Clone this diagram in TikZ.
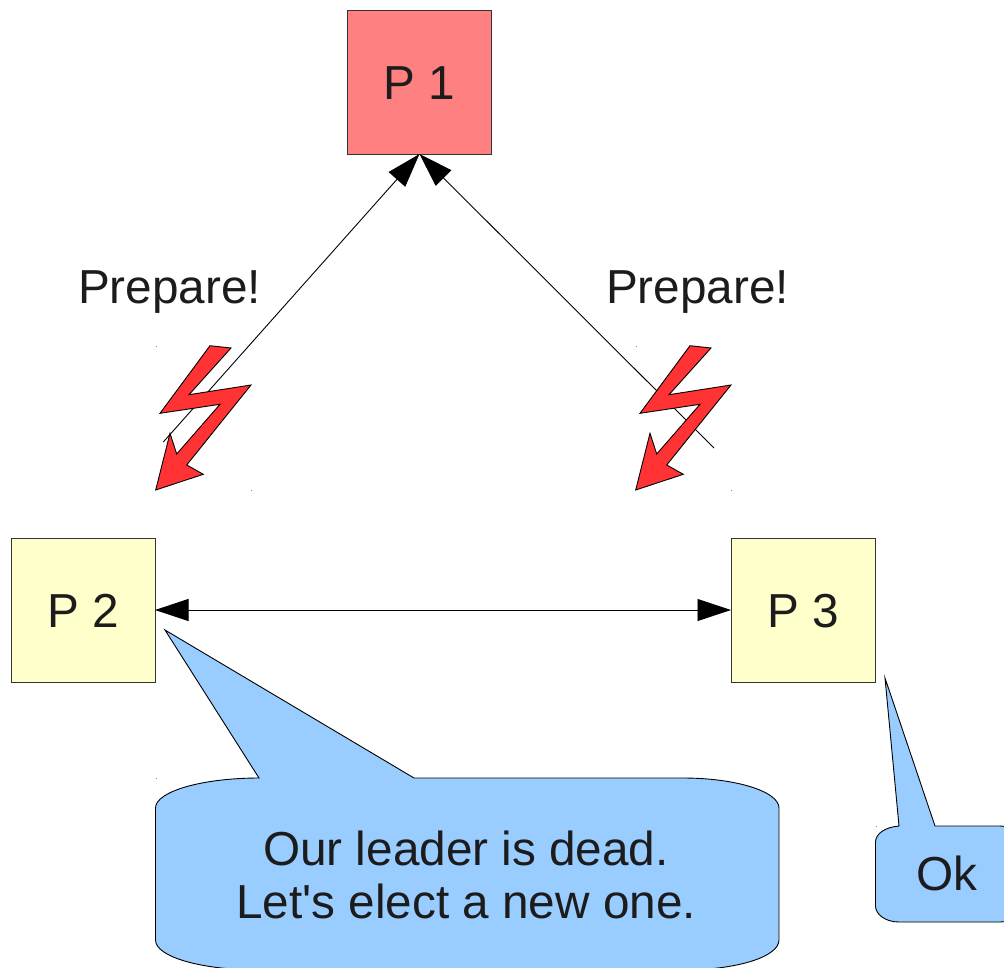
\documentclass[tikz,border=0pt]{standalone}
\usepackage{fontspec}
\newfontfamily\labelfont{Liberation Sans}
\usetikzlibrary{arrows.meta}
\definecolor{leaderred}{HTML}{FF8080}
\definecolor{procyellow}{HTML}{FFFFCC}
\definecolor{callblue}{HTML}{99CCFF}
\definecolor{boltred}{HTML}{FF3333}
\definecolor{inktext}{HTML}{1C1C1C}
\definecolor{edgegray}{HTML}{333333}
\tikzset{
  x=1pt,y=-1pt,
  procbox/.style={draw=edgegray,line width=1pt,minimum size=144pt,inner sep=0pt,outer sep=0pt},
  label/.style={text=inktext,font=\labelfont\fontsize{47.7}{54}\selectfont,inner sep=0pt,anchor=base,align=center},
  conn/.style={draw=black,line width=0.9pt},
  tipone/.style={-{Triangle[length=34pt,width=22pt]}},
  tipboth/.style={{Triangle[length=33.5pt,width=22pt]}-{Triangle[length=33.5pt,width=22pt]}},
  callout/.style={fill=callblue,draw=black,line width=0.9pt,line join=miter},
  bolt/.style={fill=boltred,draw=black,line width=0.9pt,line join=miter},
  speck/.style={fill=gray,draw=none},
}
\newcommand{\boltshape}[2]{%
  \draw[bolt,shift={(#1,#2)}]
    (70,15.7) -- (91,18) -- (49,64.7) -- (111,55) -- (46.7,135) -- (63.3,144.3)
    -- (15.7,160) -- (30,103.3) -- (36.7,124) -- (80,74.3) -- (20,83.3) -- cycle;}
\begin{document}
\begin{tikzpicture}
\useasboundingbox (0,0) rectangle (1004,967);
\clip (0,0) rectangle (1004,967);

% processes
\node[procbox,fill=leaderred]  (p1) at (419.5,82)  {};
\node[procbox,fill=procyellow] (p2) at (83,610)    {};
\node[procbox,fill=procyellow] (p3) at (803,610)   {};
\node[label] (p1t) at (419,99) {P 1};
\node[label] (p2t) at (83,627)   {P 2};
\node[label] (p3t) at (803,627)  {P 3};

% connectors
\coordinate (lfree) at (163.3,442);
\coordinate (rfree) at (714,448);
\draw[conn,tipone] (lfree) -- (p1.south);
\draw[conn,tipone] (rfree) -- (p1.south);
\draw[conn,tipboth] (p2.east) -- (p3.west);

% labels
\node[label] (prepl) at (169.5,303) {Prepare!};
\node[label] (prepr) at (697.5,303) {Prepare!};

% lightning bolts
\boltshape{140}{330}
\boltshape{620}{330}

% speech bubbles
\draw[callout] (165,630) -- (259,778) .. controls (202,778) and (155.5,791.5) .. (155.5,808)
  -- (155.5,940) .. controls (155.5,957) and (202,970) .. (259,970)
  -- (683,970) .. controls (736,970) and (779,957) .. (779,940)
  -- (779,808) .. controls (779,791.5) and (736,778) .. (683,778)
  -- (414,778) -- cycle;
\node[label] (bigone) at (466,865) {Our leader is dead.};
\node[label] (bigtwo) at (466,918) {Let's elect a new one.};

\draw[callout] (885,678) -- (899,826) .. controls (885,827) and (875.5,834) .. (875.5,842)
  -- (875.5,906) .. controls (875.5,914) and (885,922) .. (899,922)
  -- (1000,922) .. controls (1012,922) and (1020,914) .. (1020,906)
  -- (1020,842) .. controls (1020,834) and (1012,826) .. (1000,826)
  -- (935,826) -- cycle;
\node[label] (okt) at (947,890) {Ok};

% selection specks
\foreach \sx/\sy in {156/346,251/490,636/346,731/490,156/778,876/826}
  \fill[speck] (\sx-0.5,\sy-0.5) rectangle (\sx+0.5,\sy+0.5);
\end{tikzpicture}
\end{document}
